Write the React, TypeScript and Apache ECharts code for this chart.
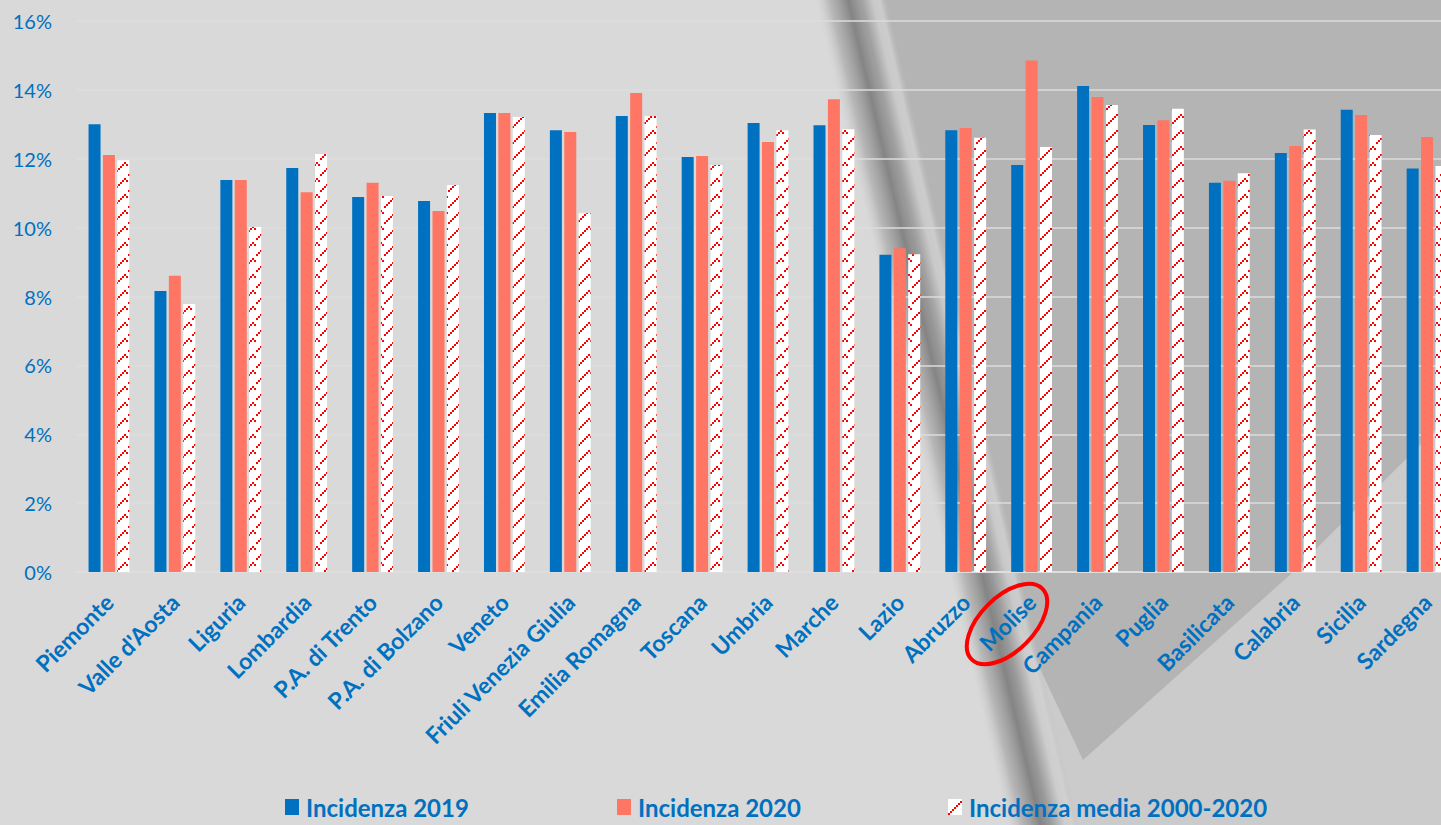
import React, { useEffect, useRef } from "react";
import * as echarts from "echarts";

const categories = [
  "Piemonte", "Valle d'Aosta", "Liguria", "Lombardia", "P.A. di Trento", "P.A. di Bolzano",
  "Veneto", "Friuli Venezia Giulia", "Emilia Romagna", "Toscana", "Umbria", "Marche",
  "Lazio", "Abruzzo", "Molise", "Campania", "Puglia", "Basilicata", "Calabria", "Sicilia", "Sardegna",
];
const incidenza2019 = [13.0, 8.16, 11.38, 11.73, 10.89, 10.77, 13.33, 12.83, 13.24, 12.05, 13.04, 12.97, 9.21, 12.83, 11.82, 14.11, 12.98, 11.3, 12.17, 13.42, 11.72];
const incidenza2020 = [12.11, 8.6, 11.38, 11.03, 11.3, 10.48, 13.33, 12.78, 13.91, 12.08, 12.49, 13.73, 9.4, 12.89, 14.85, 13.79, 13.12, 11.36, 12.37, 13.27, 12.63];
const incidenzaMedia = [11.96, 7.78, 10.02, 12.14, 10.92, 11.24, 13.21, 10.42, 13.24, 11.82, 12.83, 12.86, 9.23, 12.61, 12.34, 13.56, 13.45, 11.58, 12.85, 12.69, 11.79];
const seriesNames = ["Incidenza 2019", "Incidenza 2020", "Incidenza media 2000-2020"];

const BLUE = "#0070C0";
const SALMON = "#FF7664";
const FONT = "Lato, 'Noto Sans', sans-serif";

function makePattern(): string {
  const c = document.createElement("canvas");
  c.width = 16;
  c.height = 16;
  const ctx = c.getContext("2d")!;
  ctx.fillStyle = "#ffffff";
  ctx.fillRect(0, 0, 16, 16);
  ctx.fillStyle = "#ff0000";
  // zigzag made of 2x2 squares: long rising stroke then short falling one
  const pts = [[0, 14], [2, 12], [4, 10], [6, 8], [8, 6], [10, 4], [12, 2], [14, 4]];
  for (const [x, y] of pts) ctx.fillRect(x, y, 2, 2);
  return c.toDataURL();
}

export default function App() {
  const ref = useRef<HTMLDivElement>(null);
  useEffect(() => {
    if (!ref.current) return;
    const chart = echarts.init(ref.current, undefined, { renderer: "svg" });
    const pattern = { image: makePattern(), repeat: "repeat", imageWidth: 16, imageHeight: 16 } as any;
    const legendBase = {
      orient: "horizontal",
      top: 795,
      padding: 0,
      itemWidth: 14,
      itemHeight: 16,
      icon: "rect",
      textStyle: {
        color: BLUE, fontSize: 24, fontWeight: "bold", fontFamily: FONT,
        padding: [0, 0, 0, 2],
      },
    };
    const stripeAngle = Math.atan(192 / 825);
    chart.setOption({
      animation: false,
      backgroundColor: "#d9d9d9",
      graphic: {
        elements: [
          {
            type: "polygon", z: -20, silent: true,
            shape: { points: [[860, 0], [1441, 0], [1441, 825], [1040, 825]] },
            style: { fill: "#cbcbcb" },
          },
          {
            type: "polygon", z: -19, silent: true,
            shape: { points: [[860, 0], [1441, 0], [1441, 424], [1292, 573], [1083, 760], [995, 573]] },
            style: { fill: "#b4b4b4" },
          },
          {
            type: "rect", z: -18, silent: true,
            x: 848, y: 0, rotation: stripeAngle,
            shape: { x: -32, y: -60, width: 70, height: 1000 },
            style: {
              fill: {
                type: "linear", x: 0, y: 0, x2: 1, y2: 0,
                colorStops: [
                  { offset: 0, color: "rgba(200,200,200,0)" },
                  { offset: 0.2, color: "rgba(160,160,160,0.6)" },
                  { offset: 0.46, color: "rgba(125,125,125,0.92)" },
                  { offset: 0.6, color: "rgba(145,145,145,0.85)" },
                  { offset: 0.8, color: "rgba(205,205,205,0.85)" },
                  { offset: 0.9, color: "rgba(210,210,210,0.8)" },
                  { offset: 1, color: "rgba(190,190,190,0)" },
                ],
              },
            },
          },
          {
            type: "ellipse", z: 100, silent: true,
            x: 1007, y: 624, rotation: Math.PI / 4,
            shape: { cx: 0, cy: 0, rx: 50, ry: 27 },
            style: { fill: null, stroke: "#ff0000", lineWidth: 4 },
          },
        ],
      },
      legend: [
        { ...legendBase, left: 285, data: [seriesNames[0]] },
        { ...legendBase, left: 617, data: [seriesNames[1]] },
        { ...legendBase, left: 948, data: [seriesNames[2]] },
      ],
      grid: { left: 76, right: 0, top: 21, bottom: 253, containLabel: false },
      xAxis: {
        type: "category",
        data: categories,
        axisLine: { show: true, lineStyle: { color: "#dedede", width: 2 } },
        axisTick: { show: false },
        axisLabel: {
          interval: 0,
          rotate: 45,
          margin: 26,
          color: BLUE,
          fontSize: 23,
          fontWeight: "bold",
          fontFamily: FONT,
        },
      },
      yAxis: {
        type: "value",
        min: 0,
        max: 16,
        interval: 2,
        axisLine: { show: false },
        axisTick: { show: false },
        splitLine: { show: true, lineStyle: { color: "#dddddd", width: 1.5 } },
        axisLabel: {
          formatter: "{value}%",
          margin: 24,
          color: BLUE,
          fontSize: 20,
          fontFamily: FONT,
        },
      },
      series: [
        {
          name: seriesNames[0], type: "bar", data: incidenza2019,
          barWidth: 12, barGap: "20%",
          itemStyle: { color: BLUE },
        },
        {
          name: seriesNames[1], type: "bar", data: incidenza2020,
          barWidth: 12, barGap: "20%",
          itemStyle: { color: SALMON },
        },
        {
          name: seriesNames[2], type: "bar", data: incidenzaMedia,
          barWidth: 12, barGap: "20%",
          itemStyle: { color: pattern },
        },
      ],
    });
    return () => chart.dispose();
  }, []);
  return (
    <div style={{ position: "absolute", left: 0, top: 0, width: 1441, height: 825, overflow: "hidden" }}>
      <div ref={ref} style={{ position: "absolute", left: 0, top: 0, width: 1460, height: 825 }} />
    </div>
  );
}
